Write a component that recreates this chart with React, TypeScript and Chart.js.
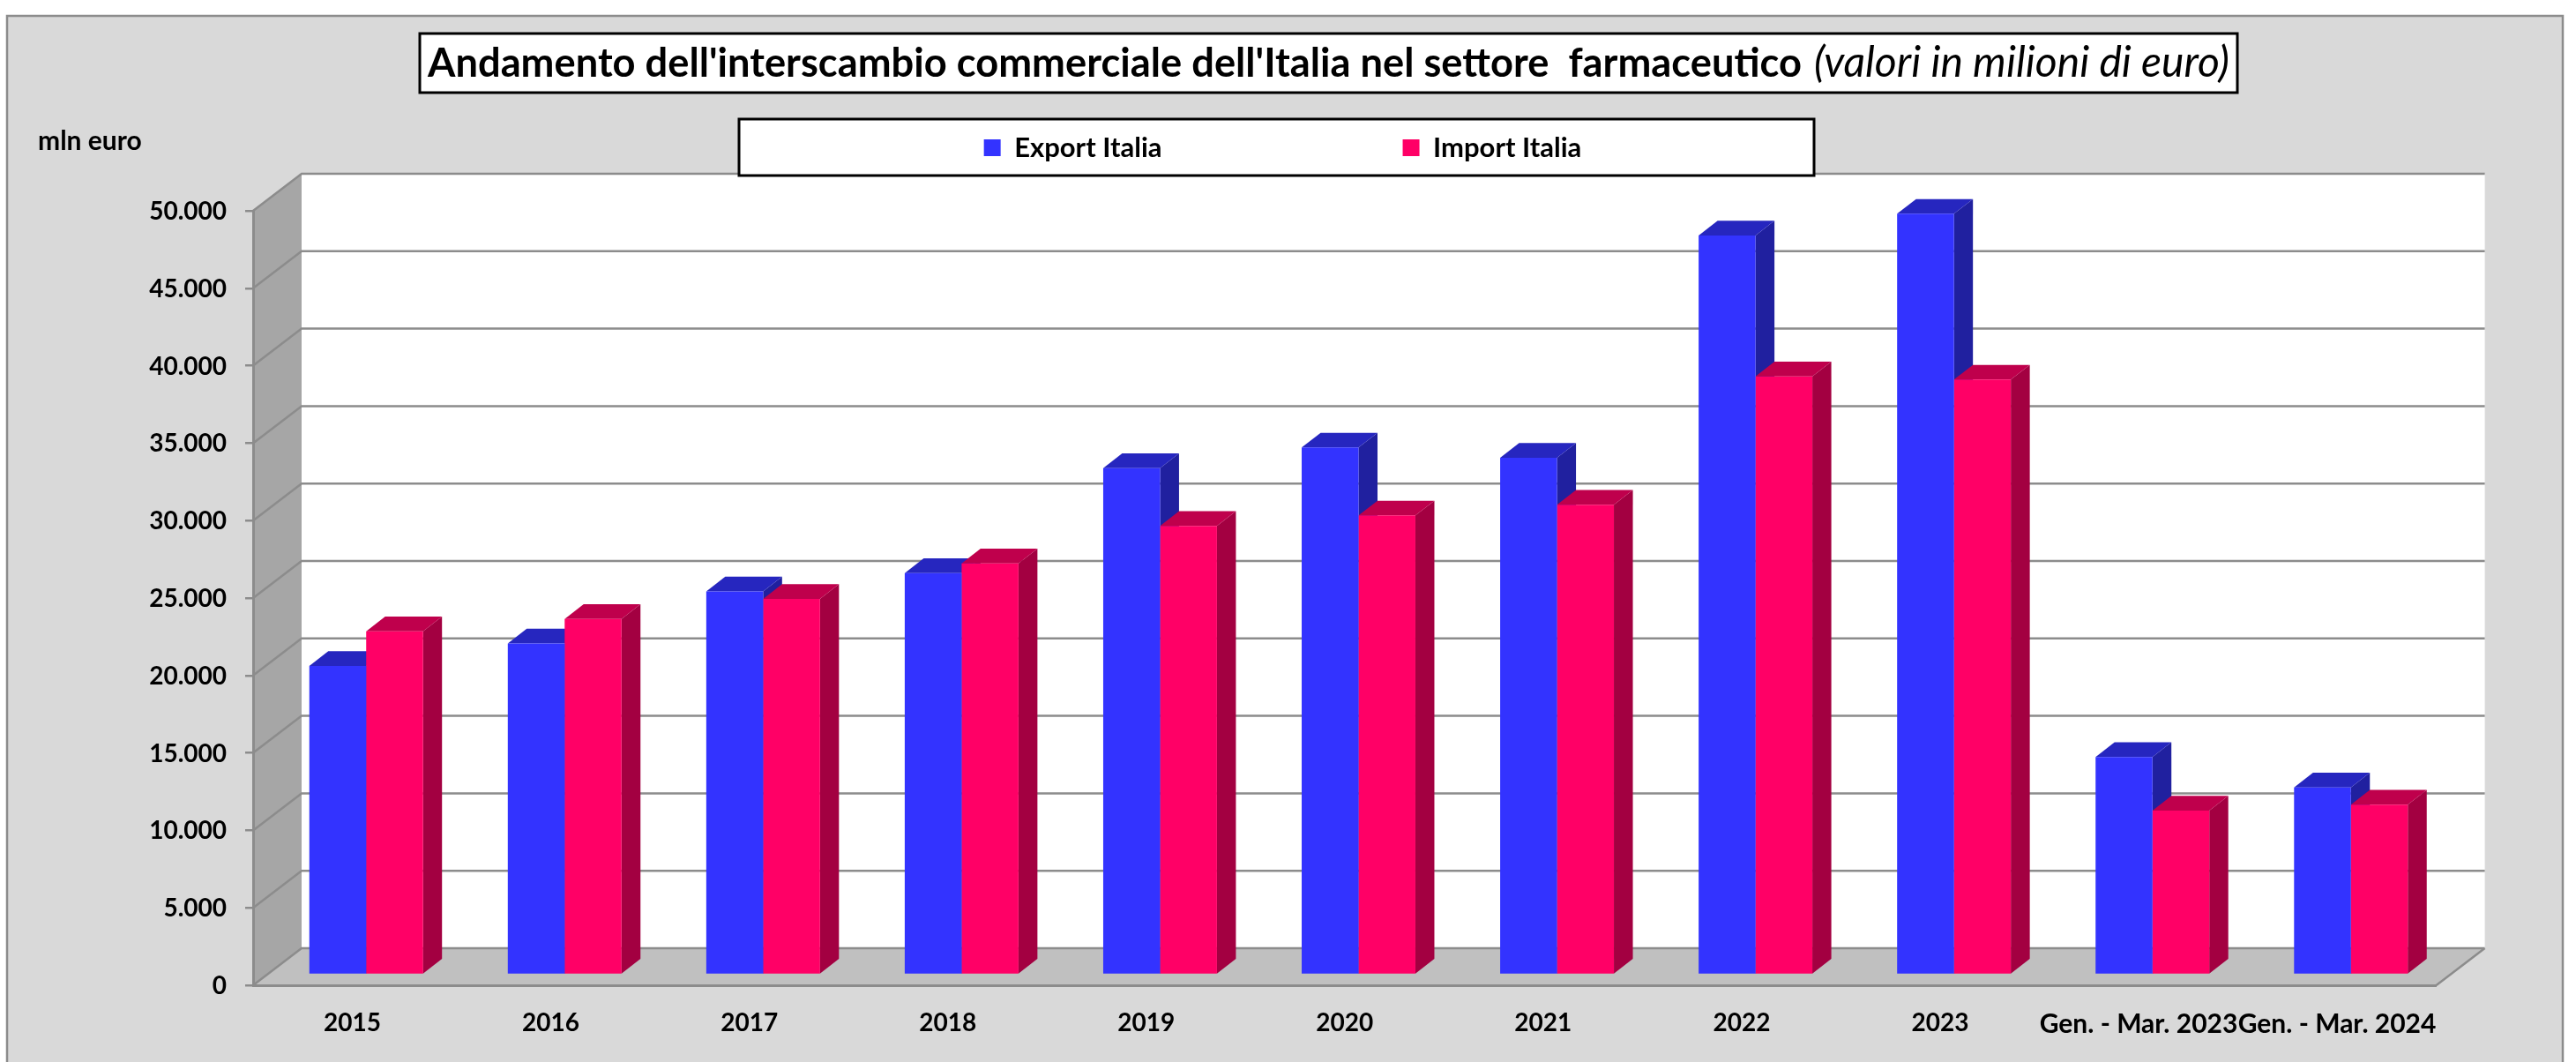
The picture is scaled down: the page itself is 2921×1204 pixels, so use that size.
import React, { useEffect, useRef } from "react";
import { Chart, registerables } from "chart.js";

Chart.register(...registerables);

const categories = ["2015", "2016", "2017", "2018", "2019", "2020", "2021", "2022", "2023", "Gen. - Mar. 2023", "Gen. - Mar. 2024"];
const exportValues = [19930, 21390, 24750, 25930, 32700, 34035, 33370, 47720, 49125, 14050, 12090];
const importValues = [22170, 22970, 24260, 26550, 28970, 29650, 30335, 38630, 38420, 10590, 10975];
const titleBold = "Andamento dell'interscambio commerciale dell'Italia nel settore  farmaceutico";
const titleItalic = "(valori in milioni di euro)";
const unitLabel = "mln euro";
const seriesNames = ["Export Italia", "Import Italia"];

const FONT = "Lato, Carlito, 'Open Sans', sans-serif";
const GRID = "#8c8c8c";
const WALL_DX = 55;
const WALL_DY = -42;
const BAR_SHIFT_X = 15.7;
const BAR_SHIFT_Y = -12;
const DEPTH_X = 21.5;
const DEPTH_Y = -16.7;
const faces: Record<string, { side: string; top: string }> = {
  [seriesNames[0]]: { side: "#20209F", top: "#2626BF" },
  [seriesNames[1]]: { side: "#A30041", top: "#BF004C" },
};

function poly(ctx: CanvasRenderingContext2D, pts: number[][], fill: string) {
  ctx.beginPath();
  pts.forEach(([x, y], i) => (i ? ctx.lineTo(x, y) : ctx.moveTo(x, y)));
  ctx.closePath();
  ctx.fillStyle = fill;
  ctx.fill();
}

const scenePlugin = {
  id: "scene3d",
  beforeLayout(chart: any) {
    const legend = chart.legend;
    if (legend && !legend.__patched) {
      const fit = legend.fit;
      legend.fit = function () {
        fit.call(this);
        this.height = 239;
      };
      legend.__patched = true;
    }
  },
  afterLayout(chart: any) {
    const legend = chart.legend;
    const pad = legend.options.labels.padding;
    const fs = legend.options.labels.font.size;
    legend.left = 0;
    legend.right = 2909;
    legend.top = 158 - (fs - 19) / 2 - pad;
  },
  beforeDraw(chart: any) {
    const ctx: CanvasRenderingContext2D = chart.ctx;
    const { left: L, right: R } = chart.chartArea;
    const y = chart.scales.y;
    const y0 = y.getPixelForValue(0);
    ctx.save();
    // panel
    ctx.fillStyle = "#D9D9D9";
    ctx.fillRect(8, 18, 2898, 1186);
    ctx.strokeStyle = GRID;
    ctx.lineWidth = 2.5;
    ctx.beginPath();
    ctx.moveTo(8, 1204);
    ctx.lineTo(8, 18);
    ctx.lineTo(2906, 18);
    ctx.lineTo(2906, 1204);
    ctx.stroke();
    // walls
    const top = y.getPixelForValue(y.max);
    poly(ctx, [[L + WALL_DX, top + WALL_DY], [R + WALL_DX, top + WALL_DY], [R + WALL_DX, y0 + WALL_DY], [L + WALL_DX, y0 + WALL_DY]], "#ffffff");
    poly(ctx, [[L, top], [L + WALL_DX, top + WALL_DY], [L + WALL_DX, y0 + WALL_DY], [L, y0]], "#A6A6A6");
    poly(ctx, [[L, y0], [L + WALL_DX, y0 + WALL_DY], [R + WALL_DX, y0 + WALL_DY], [R, y0]], "#C0C0C0");
    ctx.strokeStyle = GRID;
    ctx.lineWidth = 2.5;
    ctx.beginPath();
    y.ticks.forEach((t: any) => {
      const p = y.getPixelForValue(t.value);
      ctx.moveTo(L, p);
      ctx.lineTo(L + WALL_DX, p + WALL_DY);
      ctx.lineTo(R + WALL_DX, p + WALL_DY);
    });
    ctx.moveTo(R, y0);
    ctx.lineTo(R + WALL_DX, y0 + WALL_DY);
    ctx.stroke();
    // title box
    ctx.fillStyle = "#ffffff";
    ctx.fillRect(476, 38, 2061, 67);
    ctx.strokeStyle = "#000000";
    ctx.lineWidth = 3;
    ctx.strokeRect(476, 38, 2061, 67);
    ctx.fillStyle = "#000000";
    ctx.textAlign = "left";
    ctx.textBaseline = "alphabetic";
    ctx.font = `bold 45.4px ${FONT}`;
    ctx.fillText(titleBold, 485, 87, 1558);
    ctx.font = `italic 48px ${FONT}`;
    ctx.fillText(titleItalic, 2057, 87, 472);
    // unit
    ctx.font = `bold 30px ${FONT}`;
    ctx.fillText(unitLabel, 43, 170, 120);
    // legend box
    ctx.fillStyle = "#ffffff";
    ctx.fillRect(838, 135, 1219, 64);
    ctx.strokeStyle = "#000000";
    ctx.lineWidth = 3;
    ctx.strokeRect(838, 135, 1219, 64);
    ctx.restore();
  },
  beforeDatasetsDraw(chart: any) {
    // 3D side and top faces, Export first so that Import's faces overlap it
    const ctx: CanvasRenderingContext2D = chart.ctx;
    ctx.save();
    ctx.translate(BAR_SHIFT_X, BAR_SHIFT_Y);
    chart.data.datasets.forEach((_: any, i: number) => {
      const meta = chart.getDatasetMeta(i);
      const f = faces[meta.label];
      meta.data.forEach((bar: any) => {
        const { x, y, base, width } = bar.getProps(["x", "y", "base", "width"], true);
        const l = x - width / 2;
        const r = x + width / 2;
        poly(ctx, [[r, y], [r + DEPTH_X, y + DEPTH_Y], [r + DEPTH_X, base + DEPTH_Y], [r, base]], f.side);
        poly(ctx, [[l, y], [l + DEPTH_X, y + DEPTH_Y], [r + DEPTH_X, y + DEPTH_Y], [r, y]], f.top);
      });
    });
    ctx.restore();
  },
  beforeDatasetDraw(chart: any) {
    chart.ctx.save();
    chart.ctx.translate(BAR_SHIFT_X, BAR_SHIFT_Y);
  },
  afterDatasetDraw(chart: any) {
    chart.ctx.restore();
  },
};

export default function App() {
  const ref = useRef<HTMLCanvasElement>(null);
  useEffect(() => {
    const chart = new Chart(ref.current as HTMLCanvasElement, {
      type: "bar",
      data: {
        labels: categories,
        datasets: [
          { label: seriesNames[0], data: exportValues, backgroundColor: "#3333FF", clip: false as any },
          { label: seriesNames[1], data: importValues, backgroundColor: "#FF0066", clip: false as any },
        ],
      },
      options: {
        animation: false,
        responsive: false,
        layout: { padding: { left: 0, right: 158.4, top: 0, bottom: 0 } },
        datasets: { bar: { categoryPercentage: 0.573, barPercentage: 1 } },
        plugins: {
          title: { display: false },
          tooltip: { enabled: false },
          legend: {
            display: true,
            position: "top",
            labels: {
              boxWidth: 19,
              boxHeight: 19,
              padding: 273,
              color: "#000000",
              font: { family: FONT, size: 31, weight: "bold" },
            },
          },
        },
        scales: {
          x: {
            afterFit: (s: any) => { s.height = 87; },
            grid: { drawOnChartArea: false, drawTicks: false },
            border: { color: GRID, width: 3 },
            ticks: {
              padding: 26,
              color: "#000000",
              autoSkip: false,
              maxRotation: 0,
              minRotation: 0,
              font: (c: any) => ({ family: FONT, size: c.index >= 9 ? 30 : 28, weight: "bold" }),
            },
          },
          y: {
            min: 0,
            max: 50000,
            afterFit: (s: any) => { s.width = 287; },
            grid: { drawOnChartArea: false, drawTicks: true, tickLength: 9, color: GRID, lineWidth: 2.5 },
            border: { color: GRID, width: 3 },
            ticks: {
              stepSize: 5000,
              padding: 21,
              labelOffset: 1,
              color: "#000000",
              font: { family: FONT, size: 28, weight: "bold" },
              callback: (v: any) => String(v).replace(/(\d)(\d{3})$/, "$1.$2"),
            },
          },
        },
      },
      plugins: [scenePlugin as any],
    });
    return () => chart.destroy();
  }, []);
  return (
    <div style={{ position: "fixed", left: 0, top: 0, width: 2921, height: 1204, overflow: "hidden", background: "#fff" }}>
      <canvas ref={ref} width={2921} height={1204} style={{ display: "block" }} />
    </div>
  );
}
